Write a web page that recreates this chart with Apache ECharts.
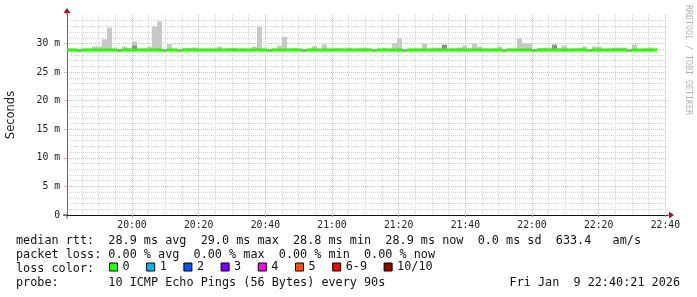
<!DOCTYPE html>
<html><head><meta charset="utf-8">
<script src="https://cdn.jsdelivr.net/npm/echarts@6/dist/echarts.min.js"></script>
<style>html,body{margin:0;padding:0;background:#fff}#c{width:697px;height:297px}</style>
</head><body><div id="c"></div>
<script>
// ---- data ----
const probeStart = '19:40:30';
const graphEnd = '22:40:30';
const stepSeconds = 90;
const medianRtt = [
  28.9, 28.9, 28.8, 28.9, 28.9, 28.9, 28.9, 28.9, 28.9, 28.9,
  28.8, 28.9, 28.9, 28.9, 28.9, 28.9, 28.9, 28.9, 28.9, 28.8,
  28.9, 28.9, 28.8, 28.9, 28.9, 28.9, 28.9, 28.9, 28.9, 28.9,
  28.9, 28.9, 28.9, 28.9, 28.9, 28.9, 28.9, 28.9, 28.9, 28.9,
  28.8, 28.9, 28.9, 28.9, 28.9, 28.9, 28.9, 28.8, 28.9, 28.9,
  28.9, 28.9, 28.9, 28.9, 28.9, 28.9, 28.9, 28.9, 28.9, 28.9,
  28.9, 28.8, 28.9, 28.9, 28.9, 28.9, 28.9, 28.8, 28.9, 28.9,
  28.9, 28.9, 28.9, 28.9, 28.9, 28.9, 28.9, 28.9, 28.9, 28.9,
  28.9, 28.9, 28.9, 28.9, 28.9, 28.9, 28.9, 28.8, 28.9, 28.9,
  28.9, 28.9, 28.9, 28.8, 28.9, 28.9, 28.9, 28.9, 28.9, 28.9,
  28.9, 28.9, 28.9, 28.9, 28.8, 28.9, 28.9, 28.9, 28.9, 28.9,
  28.9, 28.9, 28.8, 28.9, 28.9, 28.9, 28.9, 28.9
];
const smokeMax = [
  29.0, 29.0, 28.9, 29.0, 29.1, 29.5, 29.5, 30.75, 32.8, 29.0,
  28.9, 29.5, 29.2, 30.35, 29.0, 29.1, 29.5, 33.0, 33.9, 28.9,
  29.9, 29.0, 29.0, 29.2, 29.2, 29.3, 29.1, 29.0, 29.0, 29.0,
  29.5, 29.0, 29.25, 29.25, 29.0, 29.1, 29.0, 29.5, 33.0, 29.0,
  28.9, 29.1, 29.65, 31.2, 29.0, 29.2, 29.0, 29.0, 29.1, 29.55,
  29.0, 29.85, 29.0, 29.1, 29.2, 29.0, 29.3, 29.0, 29.1, 29.3,
  29.0, 29.1, 29.0, 29.2, 29.0, 30.1, 30.9, 29.0, 29.0, 29.1,
  29.0, 30.0, 29.1, 29.3, 29.3, 29.9, 29.0, 29.1, 29.3, 29.65,
  29.1, 30.0, 29.5, 29.1, 29.0, 29.1, 29.5, 29.0, 29.1, 29.0,
  30.9, 30.0, 30.0, 29.0, 29.2, 29.2, 29.3, 29.95, 29.1, 29.65,
  29.0, 29.1, 29.2, 29.5, 29.0, 29.5, 29.5, 29.0, 29.1, 29.3,
  29.3, 29.3, 29.0, 29.85, 29.0, 29.1, 29.3, 29.0
];
const darkSmokeSteps = [13, 75, 97];
const darkSmokeTop = [29.65, 29.75, 29.7];
const xTickLabels = ['20:00', '20:20', '20:40', '21:00', '21:20', '21:40', '22:00', '22:20', '22:40'];
const rttStats = ['28.9', '29.0', '28.8', '28.9', '0.0', '633.4'];
const lossStats = ['0.00', '0.00', '0.00', '0.00'];
const lossLabels = ['0', '1', '2', '3', '4', '5', '6-9', '10/10'];
const lossColors = ['#26ff00', '#00b8ff', '#0059ff', '#7e00ff', '#ff00ff', '#ff5500', '#ff0000', '#a10000'];
const probeText = '10 ICMP Echo Pings (56 Bytes) every 90s';
const dateText = 'Fri Jan  9 22:40:21 2026';

// ---- build ----
const toMin = s => { const p = s.split(':').map(Number); return p[0] * 60 + p[1] + (p[2] || 0) / 60; };
const tStart = toMin(probeStart), tEnd = toMin(graphEnd), stepMin = stepSeconds / 60;
const rows = medianRtt.map((v, k) => [tStart + k * stepMin, tStart + (k + 1) * stepMin, v, smokeMax[k]]);
const darkRows = darkSmokeSteps.map((k, i) => [tStart + k * stepMin, tStart + (k + 1) * stepMin, medianRtt[k], darkSmokeTop[i]]);
const majorX = xTickLabels.map(toMin);
const minorX = [];
for (let m = Math.ceil(tStart / 5) * 5; m <= tEnd; m += 5) minorX.push(m);
const fmtTime = v => { const h = Math.floor(v / 60), m = Math.round(v - h * 60); return h + ':' + String(m).padStart(2, '0'); };

const MONO = '"DejaVu Sans Mono"';
const ARROW = 'path://M3.5,0 L7,5 L4,5 L4,7 L3,7 L3,5 L0,5 Z';
const arrowColor = '#9b1c1c';
const majorGrid = { color: '#f0b4b4', width: 1, type: [1, 1] };
const minorGrid = { color: '#d6d6d6', width: 1, type: [1, 1] };

const rectItem = (fill) => function (params, api) {
  const p0 = api.coord([api.value(0), api.value(3)]);
  const p1 = api.coord([api.value(1), api.value(2)]);
  return { type: 'rect', shape: { x: p0[0], y: p0[1], width: p1[0] - p0[0], height: p1[1] - p0[1] }, style: { fill: fill } };
};

const chart = echarts.init(document.getElementById('c'), null, { renderer: 'canvas' });
chart.setOption({
  animation: false,
  backgroundColor: '#fff',
  grid: { left: 67, top: 15, width: 600, height: 200, containLabel: false, outerBoundsMode: 'none' },
  xAxis: [
    { // minor grid + arrow
      type: 'value', min: tStart, max: tEnd, position: 'bottom',
      axisLine: { show: true, onZero: false, lineStyle: { color: arrowColor, width: 1 }, symbol: ['none', ARROW], symbolSize: [7, 7], symbolOffset: [0, 3.5] },
      axisTick: { show: false, customValues: minorX },
      axisLabel: { show: false },
      splitLine: { show: true, lineStyle: minorGrid }
    },
    { // main
      type: 'value', min: tStart, max: tEnd, position: 'bottom',
      axisLine: { show: true, onZero: false, lineStyle: { color: '#111', width: 1 }, symbol: ['rect', 'none'], symbolSize: [1, 4], symbolOffset: [-2, 0] },
      axisTick: { show: true, length: 2, customValues: majorX, lineStyle: { color: '#e07070' } },
      axisLabel: { show: true, customValues: majorX, formatter: fmtTime, margin: 5, fontFamily: MONO, fontSize: 9.75, color: '#222' },
      splitLine: { show: true, lineStyle: majorGrid }
    }
  ],
  yAxis: [
    { // arrow
      type: 'value', min: 0, max: 35, interval: 5, position: 'left',
      axisLine: { show: true, lineStyle: { color: arrowColor, width: 1 }, symbol: ['none', ARROW], symbolSize: [7, 7], symbolOffset: [0, 3.5] },
      axisTick: { show: false }, axisLabel: { show: false }, splitLine: { show: false }
    },
    { // main
      type: 'value', min: 0, max: 35, interval: 5, position: 'left',
      name: 'Seconds', nameLocation: 'middle', nameRotate: 90, nameGap: 50,
      nameTextStyle: { fontFamily: '"DejaVu Sans"', fontSize: 11.5, color: '#222' },
      axisLine: { show: true, lineStyle: { color: '#666', width: 1 }, symbol: ['rect', 'none'], symbolSize: [1, 4], symbolOffset: [-2, 0] },
      axisTick: { show: true, length: 4, lineStyle: { color: '#e89090', type: [1, 1] } },
      axisLabel: { show: true, showMaxLabel: false, margin: 7, fontFamily: MONO, fontSize: 9.75, color: '#222',
        formatter: v => v === 0 ? '0' : v + ' m' },
      splitLine: { show: true, showMaxLine: false, showMinLine: false, lineStyle: majorGrid },
      minorTick: { show: false },
      minorSplitLine: { show: true, lineStyle: minorGrid }
    }
  ],
  legend: {
    left: 109, top: 261, padding: 0, icon: 'rect', itemWidth: 8, itemHeight: 8, itemGap: 16.6,
    selectedMode: false, data: lossLabels,
    itemStyle: { borderColor: '#000', borderWidth: 1 },
    textStyle: { fontFamily: MONO, fontSize: 11.8, color: '#111' }
  },
  series: [
    { type: 'custom', name: 'smoke', xAxisIndex: 1, yAxisIndex: 1, renderItem: rectItem('#c8c8c8'),
      encode: { x: [0, 1], y: [2, 3] }, data: rows, z: 2 },
    { type: 'custom', name: 'smoke-core', xAxisIndex: 1, yAxisIndex: 1, renderItem: rectItem('#8c8c8c'),
      encode: { x: [0, 1], y: [2, 3] }, data: darkRows, z: 3 },
    { type: 'custom', name: lossLabels[0], xAxisIndex: 1, yAxisIndex: 1, itemStyle: { color: lossColors[0] },
      encode: { x: [0, 1], y: 2 }, data: rows, z: 4,
      renderItem: function (params, api) {
        const a = api.coord([api.value(0), api.value(2)]);
        const b = api.coord([api.value(1), api.value(2)]);
        return { type: 'rect', shape: { x: a[0], y: a[1] - 1.5, width: b[0] - a[0], height: 3 }, style: { fill: lossColors[0] } };
      } }
  ].concat(lossLabels.slice(1).map((n, i) => ({
    type: 'line', name: n, xAxisIndex: 1, yAxisIndex: 1, data: [],
    color: lossColors[i + 1], itemStyle: { color: lossColors[i + 1] }
  }))),
  graphic: [
    { type: 'text', x: 16, y: 241, style: { text: `median rtt:  ${rttStats[0]} ms avg  ${rttStats[1]} ms max  ${rttStats[2]} ms min  ${rttStats[3]} ms now  ${rttStats[4]} ms sd  ${rttStats[5]}   am/s`, font: '11.8px ' + MONO, fill: '#111', verticalAlign: 'middle' } },
    { type: 'text', x: 16, y: 255, style: { text: `packet loss: ${lossStats[0]} % avg  ${lossStats[1]} % max  ${lossStats[2]} % min  ${lossStats[3]} % now`, font: '11.8px ' + MONO, fill: '#111', verticalAlign: 'middle' } },
    { type: 'text', x: 16, y: 269, style: { text: 'loss color:', font: '11.8px ' + MONO, fill: '#111', verticalAlign: 'middle' } },
    { type: 'text', x: 16, y: 283, style: { text: 'probe:       ' + probeText, font: '11.8px ' + MONO, fill: '#111', verticalAlign: 'middle' } },
    { type: 'text', x: 680, y: 283, style: { text: dateText, font: '11.8px ' + MONO, fill: '#111', align: 'right', verticalAlign: 'middle' } },
    { type: 'text', x: 692, y: 5, rotation: -Math.PI / 2, style: { text: 'RRDTOOL / TOBI OETIKER', font: '8.3px ' + MONO, fill: '#b4b4b4', align: 'left', verticalAlign: 'top' } }
  ]
});
</script></body></html>
